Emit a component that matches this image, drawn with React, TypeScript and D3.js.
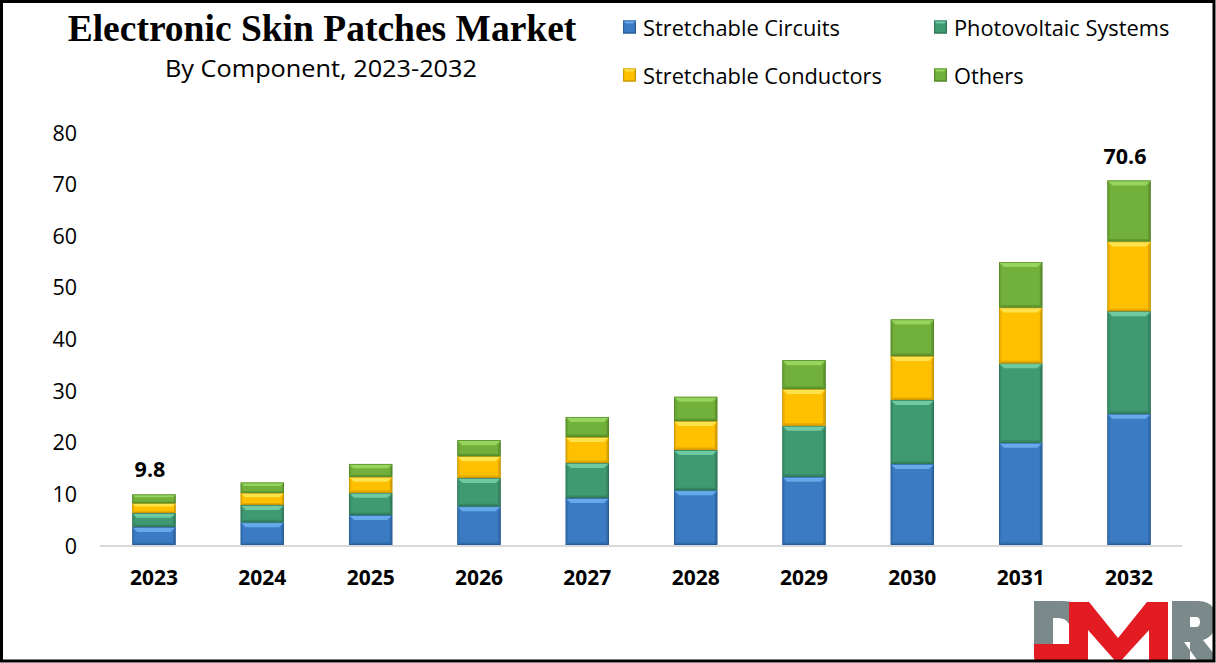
import React from "react";
import * as d3 from "d3";

const years = ["2023", "2024", "2025", "2026", "2027", "2028", "2029", "2030", "2031", "2032"];
const stretchableCircuits = [3.5, 4.4, 5.8, 7.5, 9.1, 10.6, 13.2, 15.7, 19.8, 25.4];
const photovoltaicSystems = [2.7, 3.35, 4.3, 5.5, 6.8, 7.8, 9.9, 12.4, 15.4, 19.9];
const stretchableConductors = [1.9, 2.35, 3.1, 4.2, 5.0, 5.6, 7.1, 8.5, 10.8, 13.5];
const others = [1.7, 2.0, 2.5, 3.1, 3.9, 4.7, 5.6, 7.1, 8.8, 11.8];
const seriesNames = ["Stretchable Circuits", "Photovoltaic Systems", "Stretchable Conductors", "Others"];
const yTicks = [0, 10, 20, 30, 40, 50, 60, 70, 80];
const valueLabels = [
  { year: "2023", text: "9.8" },
  { year: "2032", text: "70.6" },
];

const W = 1216;
const H = 663;

const palette = [
  { base: "#3a7bc4", light: "#67aaea", dark: "#24568f" },
  { base: "#3f9a72", light: "#6fcaa2", dark: "#2a6e50" },
  { base: "#ffc000", light: "#ffe34d", dark: "#c08f00" },
  { base: "#71b03a", light: "#97d45e", dark: "#4c7f24" },
];

function Bevel({ x0, x1, y0, y1, c, bev }: { x0: number; x1: number; y0: number; y1: number; c: typeof palette[0]; bev: number }) {
  const h = y1 - y0;
  const b = Math.min(bev, h / 3, (x1 - x0) / 3);
  const pts = (a: number[][]) => a.map((p) => p.join(",")).join(" ");
  return (
    <g>
      <rect x={x0} y={y0} width={x1 - x0} height={h} fill={c.base} />
      <polygon points={pts([[x0, y0], [x1, y0], [x1 - b, y0 + b], [x0 + b, y0 + b]])} fill={c.light} />
      <polygon points={pts([[x0, y0], [x0 + b * 0.5, y0 + b], [x0 + b * 0.5, y1 - b * 0.5], [x0, y1]])} fill="#000" opacity={0.07} />
      <polygon points={pts([[x1, y0], [x1 - b * 0.5, y0 + b], [x1 - b * 0.5, y1 - b * 0.5], [x1, y1]])} fill="#000" opacity={0.15} />
      <polygon points={pts([[x0, y1], [x1, y1], [x1 - b * 0.5, y1 - b * 0.5], [x0 + b * 0.5, y1 - b * 0.5]])} fill={c.dark} opacity={0.45} />
      <rect x={x0 + 0.4} y={y0 + 0.4} width={x1 - x0 - 0.8} height={h - 0.8} fill="none" stroke={c.dark} strokeWidth={0.8} opacity={0.8} />
    </g>
  );
}

export default function App() {
  const x = d3.scaleBand<string>().domain(years).range([99.8, 1183.2]).paddingInner(0.6).paddingOuter(0.3);
  const y = d3.scaleLinear().domain([0, 80]).range([545, 132]);

  const rows = years.map((yr, i) => ({
    year: yr,
    s0: stretchableCircuits[i],
    s1: photovoltaicSystems[i],
    s2: stretchableConductors[i],
    s3: others[i],
  }));
  const stack = d3.stack<any>().keys(["s0", "s1", "s2", "s3"]);
  const layers = stack(rows);
  const totals = rows.map((r) => r.s0 + r.s1 + r.s2 + r.s3);

  const sans = "'Open Sans', 'Noto Sans', sans-serif";
  const legendPos = [
    { mx: 623, tx: 643, cy: 27 },
    { mx: 934, tx: 954, cy: 27 },
    { mx: 623, tx: 643, cy: 75 },
    { mx: 934, tx: 954, cy: 75 },
  ];

  return (
    <svg width={W} height={H} style={{ position: "absolute", left: 0, top: 0, background: "#fff" }}>
      <defs>
        <clipPath id="frameClip">
          <rect x={3} y={3} width={1210} height={657} />
        </clipPath>
      </defs>
      <rect x={0} y={0} width={W} height={H} fill="#fff" />

      {/* Title */}
      <text x={322} y={41} textAnchor="middle" fontFamily="'Liberation Serif', 'Times New Roman', serif" fontWeight="bold" fontSize={37.5} fill="#000">
        Electronic Skin Patches Market
      </text>
      <text x={321} y={77} textAnchor="middle" fontFamily={sans} fontSize={24} fill="#000" textLength={312} lengthAdjust="spacingAndGlyphs">
        By Component, 2023-2032
      </text>

      {/* Legend */}
      {seriesNames.map((name, i) => {
        const p = legendPos[i];
        return (
          <g key={name}>
            <Bevel x0={p.mx} x1={p.mx + 13} y0={p.cy - 6.5} y1={p.cy + 6.5} c={palette[i]} bev={3} />
            <text x={p.tx} y={p.cy} dominantBaseline="central" fontFamily={sans} fontSize={21.8} fill="#000">
              {name}
            </text>
          </g>
        );
      })}

      {/* Y axis labels */}
      {yTicks.map((t) => (
        <text key={t} x={77} y={y(t)} textAnchor="end" dominantBaseline="central" fontFamily={sans} fontSize={21.5} fill="#000">
          {t}
        </text>
      ))}

      {/* Bars */}
      {layers.map((layer, li) => (
        <g key={li}>
          {layer.map((d: any, i: number) => {
            const x0 = x(years[i]) as number;
            return (
              <Bevel key={i} x0={x0} x1={x0 + x.bandwidth()} y0={y(d[1])} y1={y(d[0])} c={palette[li]} bev={5} />
            );
          })}
        </g>
      ))}

      {/* Baseline */}
      <line x1={100} x2={1182} y1={y(0) + 1} y2={y(0) + 1} stroke="#d9d9d9" strokeWidth={2} />

      {/* X labels */}
      {years.map((yr) => (
        <text key={yr} x={(x(yr) as number) + x.bandwidth() / 2} y={585} textAnchor="middle" fontFamily={sans} fontWeight="bold" fontSize={21} fill="#000">
          {yr}
        </text>
      ))}

      {/* Value labels */}
      {valueLabels.map((v) => {
        const i = years.indexOf(v.year);
        return (
          <text key={v.year} x={(x(v.year) as number) + x.bandwidth() / 2 - 4} y={y(totals[i]) - 17} textAnchor="middle" fontFamily={sans} fontWeight="bold" fontSize={21.5} fill="#000">
            {v.text}
          </text>
        );
      })}

      {/* Logo */}
      <g clipPath="url(#frameClip)">
        <path d="M1034,601 H1062 Q1082,601 1089,616 L1089,630 L1069,630 L1069,624 Q1066,618 1058,618 H1053 V648 H1034 Z" fill="#7b898b" />
        <path d="M1069,602 H1089 L1118,638 L1147,602 H1168 V664 H1149 V630 L1118,664 L1088,630 V664 H1042 Q1034,664 1034,656 V644 H1069 Z" fill="#e31b23" />
        <path d="M1172,601 H1198 Q1216,601 1216,620 Q1216,636 1203,640 L1222,664 H1200 L1184,642 H1190 V664 H1172 Z M1190,617 V627 H1196 Q1200,627 1200,622 Q1200,617 1196,617 Z" fill="#7b898b" fillRule="evenodd" />
      </g>

      {/* Frame */}
      <rect x={1.5} y={1.5} width={1212.5} height={659.5} fill="none" stroke="#000" strokeWidth={3} />
    </svg>
  );
}
